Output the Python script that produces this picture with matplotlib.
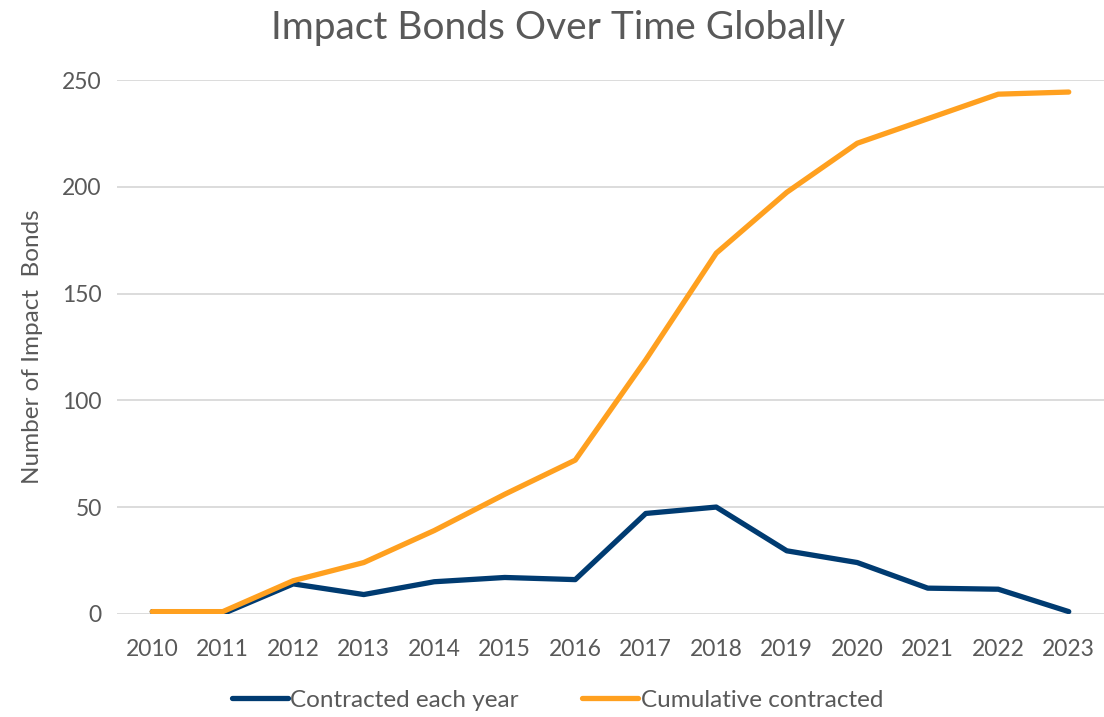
import matplotlib
matplotlib.use("Agg")
import matplotlib.pyplot as plt

years = ['2010', '2011', '2012', '2013', '2014', '2015', '2016',
         '2017', '2018', '2019', '2020', '2021', '2022', '2023']
each_year = [1, 0, 14, 9, 15, 17, 16, 47, 50, 29.5, 24, 12, 11.5, 1]
cumulative = [1, 1, 15.5, 24, 39, 56, 72, 119, 169, 197.5, 220.5, 232, 243.5, 244.5]

plt.rcParams['font.family'] = ['Lato', 'DejaVu Sans']
grey = '#595959'

fig = plt.figure(figsize=(11.04, 7.17), dpi=100)
ax = fig.add_axes([0.106, 0.144, 0.894, 0.744])

x = range(len(years))
ax.plot(x, each_year, color='#003B71', lw=3.8, solid_capstyle='round',
        label='Contracted each year')
ax.plot(x, cumulative, color='#FFA01F', lw=3.8, solid_capstyle='round',
        label='Cumulative contracted')

ax.set_xlim(-0.5, len(years) - 0.5)
ax.set_ylim(0, 250)
ax.set_yticks([0, 50, 100, 150, 200, 250])
ax.set_xticks(list(x))
ax.set_xticklabels(years)
ax.tick_params(length=0, labelsize=16.5, colors=grey, pad=11)
ax.tick_params(axis='x', pad=18)
ax.grid(axis='y', color='#D9D9D9', lw=1.3)
ax.set_axisbelow(True)
for s in ax.spines.values():
    s.set_visible(False)

ax.set_ylabel('Number of Impact  Bonds', fontsize=17.5, color=grey, labelpad=14)
fig.suptitle('Impact Bonds Over Time Globally', fontsize=28, color=grey,
             y=0.986, x=0.505)

leg = fig.legend(loc='lower center', bbox_to_anchor=(0.505, -0.022), ncol=2,
                 frameon=False, fontsize=17.5, handlelength=2.3,
                 handletextpad=0.1, columnspacing=2.6)
for t in leg.get_texts():
    t.set_color(grey)

fig.savefig('out.png', dpi=100)
